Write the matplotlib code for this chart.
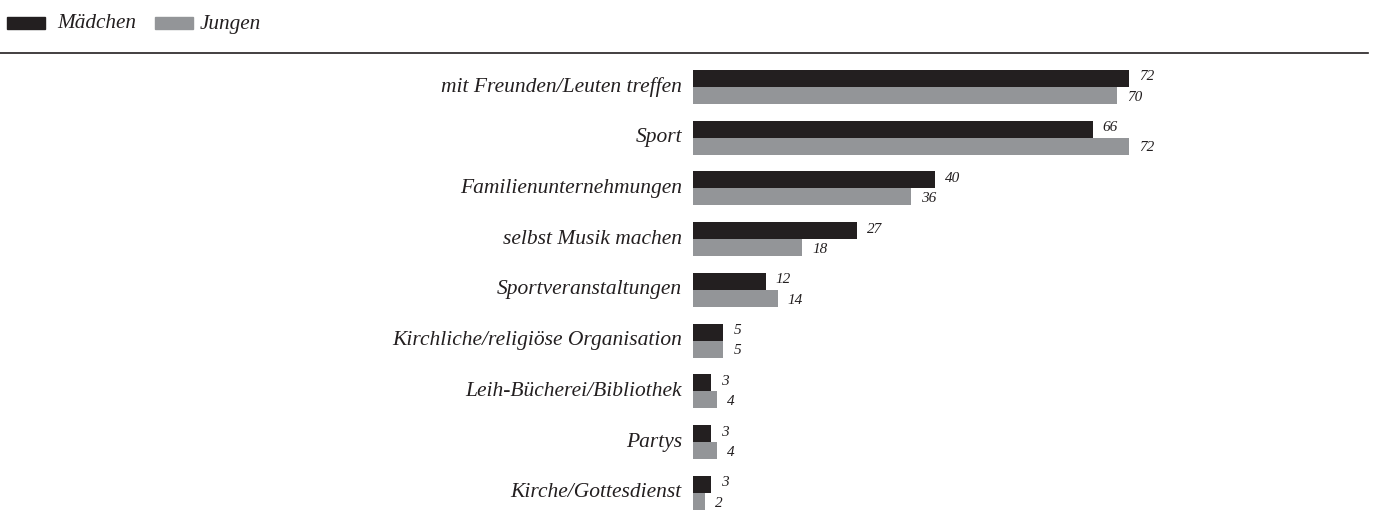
import matplotlib
matplotlib.use("Agg")
import matplotlib.pyplot as plt
from matplotlib.patches import Rectangle
from matplotlib.lines import Line2D
import numpy as np

categories = ["mit Freunden/Leuten treffen", "Sport", "Familienunternehmungen",
              "selbst Musik machen", "Sportveranstaltungen",
              "Kirchliche/religiöse Organisation", "Leih-Bücherei/Bibliothek",
              "Partys", "Kirche/Gottesdienst"]
maedchen = [72, 66, 40, 27, 12, 5, 3, 3, 3]
jungen = [70, 72, 36, 18, 14, 5, 4, 4, 2]
series_names = ["Mädchen", "Jungen"]

DARK = "#231f20"
GRAY = "#939598"
TXT = "#231f20"
FONT = "Liberation Serif"

W, H = 1374, 518
fig = plt.figure(figsize=(W / 100, H / 100), dpi=100)

ax_left = 693
ax_right = 1368
px_per_unit = (1129 - 693) / 72
c0, c8 = 87.0, 493.0
step = (c8 - c0) / 8
ax_top = c0 - 0.5 * step
ax_bottom = c8 + 0.5 * step
ax = fig.add_axes([ax_left / W, 1 - ax_bottom / H, (ax_right - ax_left) / W, (ax_bottom - ax_top) / H])
ax.set_xlim(0, (ax_right - ax_left) / px_per_unit)
ax.set_ylim(8.5, -0.5)
ax.axis("off")

y = np.arange(len(categories))
h = 17 / step
ax.barh(y - h / 2, maedchen, height=h, color=DARK, clip_on=False)
ax.barh(y + h / 2, jungen, height=h, color=GRAY, clip_on=False)

off = 10 / px_per_unit
for i in range(len(categories)):
    ax.text(maedchen[i] + off, y[i] - h / 2 - 0.03, str(maedchen[i]), va="center", ha="left",
            fontsize=11, fontstyle="italic", family=FONT, color=TXT)
    ax.text(jungen[i] + off, y[i] + h / 2 + 0.03, str(jungen[i]), va="center", ha="left",
            fontsize=11, fontstyle="italic", family=FONT, color=TXT)
    ax.text(-11 / px_per_unit, y[i], categories[i], va="center", ha="right",
            fontsize=15.5, fontstyle="italic", family=FONT, color=TXT)

# separator line
fig.add_artist(Line2D([0, 1368 / W], [1 - 53 / H, 1 - 53 / H], color=DARK, lw=1.2))

# legend
def fx(px):
    return px / W

def fy(py):
    return 1 - py / H

fig.add_artist(Rectangle((fx(7), fy(29)), 38 / W, 12 / H, color=DARK, transform=fig.transFigure))
fig.text(fx(57), fy(24), series_names[0], va="center", ha="left", fontsize=15.3,
         fontstyle="italic", family=FONT, color=TXT)
fig.add_artist(Rectangle((fx(155), fy(29)), 38 / W, 12 / H, color=GRAY, transform=fig.transFigure))
fig.text(fx(200), fy(24), series_names[1], va="center", ha="left", fontsize=15.3,
         fontstyle="italic", family=FONT, color=TXT)

fig.savefig("out.png", dpi=100, facecolor="white")
